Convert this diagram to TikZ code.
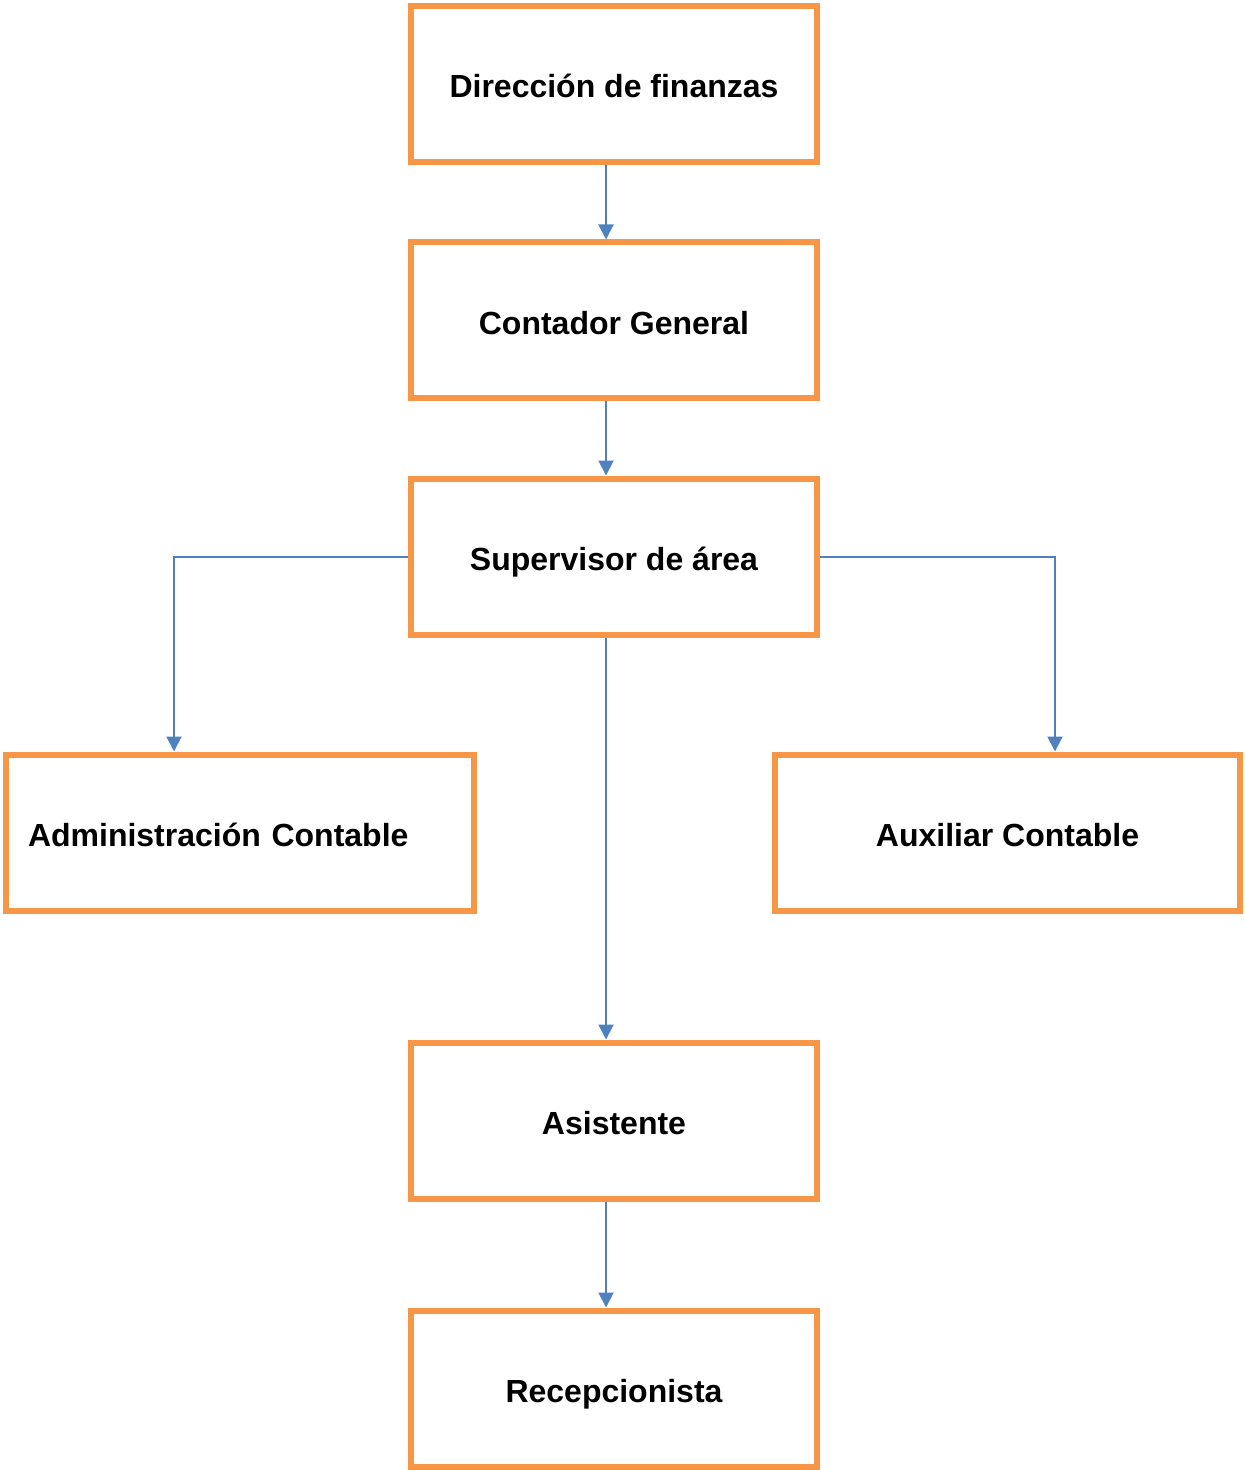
\documentclass[tikz,border=0pt]{standalone}
\usepackage{fontspec}
\setmainfont{Liberation Sans}
\usetikzlibrary{arrows.meta}
\definecolor{boxorange}{HTML}{F79646}
\definecolor{linkblue}{HTML}{4F81BD}
\tikzset{
  rolebox/.style={draw=boxorange,line width=3pt,minimum width=203pt,minimum height=78pt,
    text height=15pt,text depth=1pt,
    font=\fontsize{16pt}{19pt}\selectfont\bfseries},
  link/.style={draw=linkblue,line width=1pt,-{Triangle[length=7.5pt,width=7.5pt]}}
}
\begin{document}
\begin{tikzpicture}[x=0.5pt,y=-0.5pt]
    \useasboundingbox (0,0) rectangle (1245,1470);
    \node[rolebox] (dir) at (614,84) {Dirección de finanzas};
    \node[rolebox] (cont) at (614,320.5) {Contador General};
    \node[rolebox] (sup) at (614,556.5) {Supervisor de área};
    \node[rolebox,minimum width=234pt,text width=212pt,align=left,inner xsep=11pt] (adm) at (240,832.5) {Administración Contable};
    \node[rolebox,minimum width=232.5pt] (aux) at (1007.5,832.5) {Auxiliar Contable};
    \node[rolebox] (asis) at (614,1120.5) {Asistente};
    \node[rolebox] (recep) at (614,1388.5) {Recepcionista};
    % conexiones
    \draw[link] ([xshift=-4pt]dir.south) -- ([xshift=-4pt]cont.north);
    \draw[link] ([xshift=-4pt]cont.south) -- ([xshift=-4pt]sup.north);
    \draw[link] ([xshift=-4pt]sup.south) -- ([xshift=-4pt]asis.north);
    \draw[link] ([xshift=-4pt]asis.south) -- ([xshift=-4pt]recep.north);
    \draw[link] (sup.west) -| ([xshift=-33pt]adm.north);
    \draw[link] (sup.east) -| ([xshift=23.75pt]aux.north);
\end{tikzpicture}
\end{document}
